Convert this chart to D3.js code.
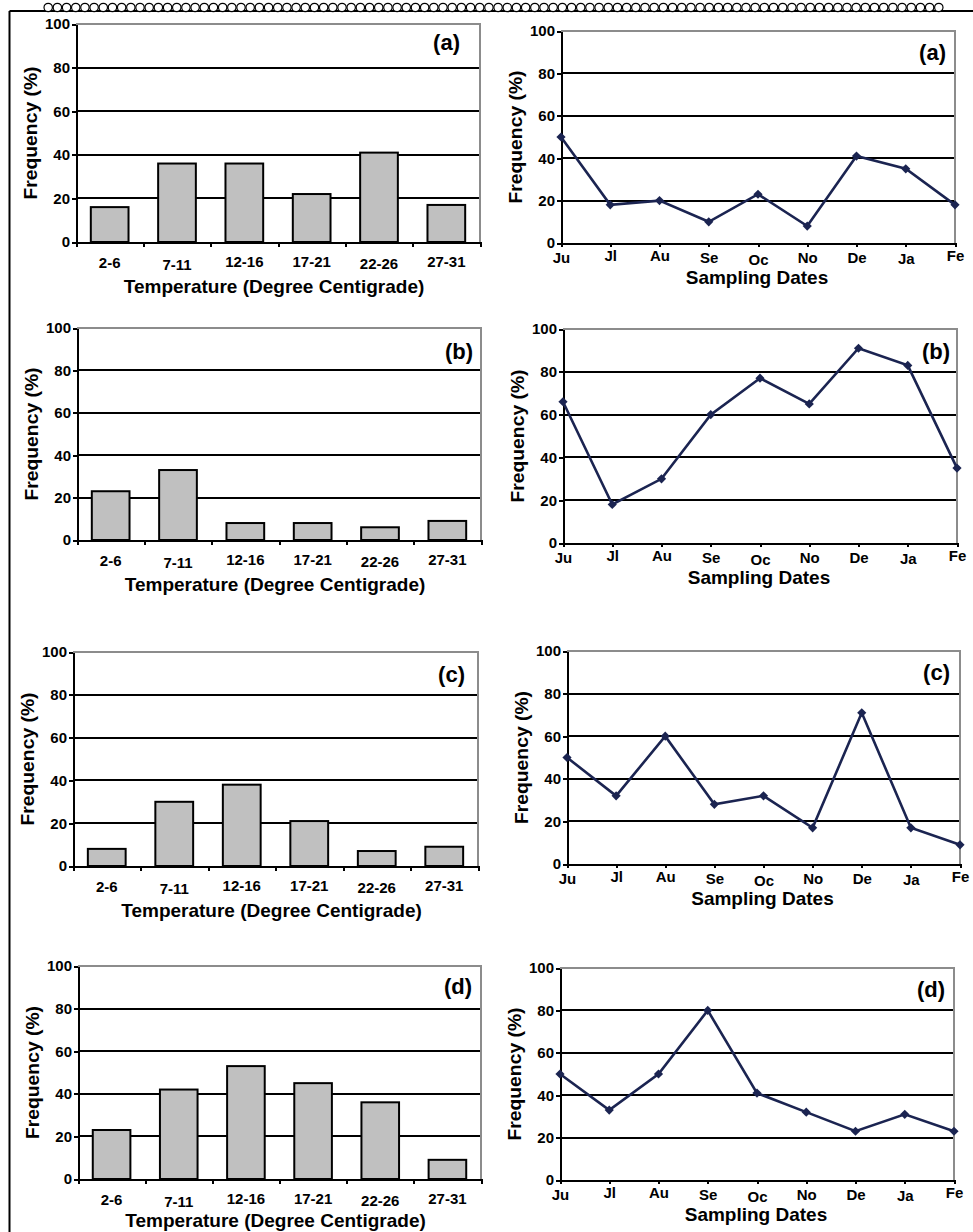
<!DOCTYPE html>
<html lang="en">
<head>
<meta charset="utf-8">
<title>Frequency by temperature and sampling date</title>
<script src="https://cdn.jsdelivr.net/npm/d3@7"></script>
<style>
    body { margin: 0; background: #fff; }
    svg text { font-family: "Liberation Sans", Arial, sans-serif; font-weight: bold; fill: #000; }
    .axis path, .axis line { stroke: #000; stroke-width: 2px; shape-rendering: crispEdges; }
    .axis text { font-size: 15px; }
    .grid line { stroke: #000; stroke-width: 2px; shape-rendering: crispEdges; }
    .frame { stroke: #8c8c8c; stroke-width: 2px; fill: none; shape-rendering: crispEdges; }
    .title { font-size: 19px; }
    .plabel { font-size: 22px; }
</style>
</head>
<body>
<script>
// categories and tick labels
var tempClasses = ["2-6", "7-11", "12-16", "17-21", "22-26", "27-31"];
var months = ["Ju", "Jl", "Au", "Se", "Oc", "No", "De", "Ja", "Fe"];
var yTicks = [0, 20, 40, 60, 80, 100];
var gridTicks = [20, 40, 60, 80];
var panelLabels = ["(a)", "(b)", "(c)", "(d)"];

// frequency (%) by temperature class, panels a-d
var tempA = [16, 36, 36, 22, 41, 17];
var tempB = [23, 33, 8, 8, 6, 9];
var tempC = [8, 30, 38, 21, 7, 9];
var tempD = [23, 42, 53, 45, 36, 9];

// frequency (%) by sampling date, panels a-d
var dateA = [50, 18, 20, 10, 23, 8, 41, 35, 18];
var dateB = [66, 18, 30, 60, 77, 65, 91, 83, 35];
var dateC = [50, 32, 60, 28, 32, 17, 71, 17, 9];
var dateD = [50, 33, 50, 80, 41, 32, 23, 31, 23];

var tempSeries = [tempA, tempB, tempC, tempD];
var dateSeries = [dateA, dateB, dateC, dateD];

// plot frames (pixels) and panel-label anchors
var barFrames = [
    {x0: 76, x1: 480, y0: 24,  y1: 242,  lx: 460, ly: 50},
    {x0: 77, x1: 481, y0: 328, y1: 540,  lx: 473, ly: 359},
    {x0: 73, x1: 478, y0: 652, y1: 866,  lx: 465, ly: 682},
    {x0: 78, x1: 481, y0: 966, y1: 1179, lx: 472, ly: 994}
];
var lineFrames = [
    {x0: 561, x1: 955, y0: 31,  y1: 243,  lx: 946, ly: 60},
    {x0: 563, x1: 957, y0: 329, y1: 543,  lx: 950, ly: 359},
    {x0: 567, x1: 960, y0: 651, y1: 864,  lx: 950, ly: 680},
    {x0: 560, x1: 954, y0: 968, y1: 1180, lx: 945, ly: 997}
];
// small vertical jitter of the category labels, as in the scan
var tempDy = [0, 2, -1, -1, 1, -1];
var monthDy = [0, -2, -2, 0, 2, 0, 0, 1, -2];

var W = 973, H = 1232;
var svg = d3.select("body").append("svg").attr("width", W).attr("height", H);

// page border: rule with a row of small rings along the top, rule down the left
svg.append("line").attr("x1", 9.5).attr("y1", 11).attr("x2", W).attr("y2", 11)
    .attr("stroke", "#000").attr("stroke-width", 2);
svg.append("line").attr("x1", 9.5).attr("y1", 11).attr("x2", 9.5).attr("y2", H)
    .attr("stroke", "#000").attr("stroke-width", 2);
var nRings = 98, ringR = 4.2, ringStart = 48.2, ringEnd = 938.8;
svg.append("g").selectAll("circle").data(d3.range(nRings)).enter().append("circle")
    .attr("cx", function(i) { return ringStart + i * (ringEnd - ringStart) / (nRings - 1); })
    .attr("cy", 7.5)
    .attr("r", ringR)
    .attr("fill", "#fff")
    .attr("stroke", "#000")
    .attr("stroke-width", 1.2);

function drawFrame(g, f, y) {
    // gridlines
    g.append("g").attr("class", "grid").selectAll("line").data(gridTicks).enter().append("line")
        .attr("x1", f.x0).attr("x2", f.x1)
        .attr("y1", function(d) { return y(d); })
        .attr("y2", function(d) { return y(d); });
    // gray top/right border of the plot area
    g.append("path").attr("class", "frame")
        .attr("d", "M" + f.x0 + "," + f.y0 + "H" + f.x1 + "V" + f.y1);
}

function drawYAxis(g, f, y) {
    g.append("g").attr("class", "axis")
        .attr("transform", "translate(" + f.x0 + ",0)")
        .call(d3.axisLeft(y).tickValues(yTicks).tickSize(4).tickSizeOuter(0).tickPadding(2));
    g.append("text").attr("class", "title")
        .attr("text-anchor", "middle")
        .attr("transform", "translate(" + (f.x0 - 39) + "," + ((f.y0 + f.y1) / 2) + ") rotate(-90)")
        .attr("textLength", 133)
        .attr("lengthAdjust", "spacingAndGlyphs")
        .text("Frequency (%)");
}

function drawBarPanel(k) {
    var f = barFrames[k], values = tempSeries[k];
    var g = svg.append("g");
    var x = d3.scaleBand().domain(tempClasses).range([f.x0, f.x1]).paddingInner(0.44).paddingOuter(0.22);
    var xEdge = d3.scaleLinear().domain([0, tempClasses.length]).range([f.x0, f.x1]);
    var y = d3.scaleLinear().domain([0, 100]).range([f.y1, f.y0]);

    drawFrame(g, f, y);

    g.append("g").selectAll("rect").data(values).enter().append("rect")
        .attr("x", function(d, i) { return x(tempClasses[i]); })
        .attr("y", function(d) { return y(d); })
        .attr("width", x.bandwidth())
        .attr("height", function(d) { return f.y1 - y(d); })
        .attr("fill", "#c0c0c0")
        .attr("stroke", "#000")
        .attr("stroke-width", 2);

    // category boundary ticks
    g.append("g").attr("class", "axis")
        .attr("transform", "translate(0," + f.y1 + ")")
        .call(d3.axisBottom(xEdge).tickValues(d3.range(tempClasses.length + 1)).tickSize(5).tickSizeOuter(0).tickFormat(""));
    // category labels
    var xl = g.append("g").attr("class", "axis")
        .attr("transform", "translate(0," + f.y1 + ")")
        .call(d3.axisBottom(x).tickSize(0));
    xl.select(".domain").remove();
    xl.selectAll("text").attr("dy", null)
        .attr("y", function(d, i) { return 26 + tempDy[i]; });

    drawYAxis(g, f, y);

    // the last title sits right on the lower page edge
    g.append("text").attr("class", "title").attr("text-anchor", "middle")
        .attr("x", (f.x0 + f.x1) / 2 - 4).attr("y", Math.min(f.y1 + 51, H - 5))
        .text("Temperature (Degree Centigrade)");
    g.append("text").attr("class", "plabel").attr("text-anchor", "end")
        .attr("x", f.lx).attr("y", f.ly).text(panelLabels[k]);
}

function drawLinePanel(k) {
    var f = lineFrames[k], values = dateSeries[k];
    var g = svg.append("g");
    var x = d3.scalePoint().domain(months).range([f.x0, f.x1]);
    var y = d3.scaleLinear().domain([0, 100]).range([f.y1, f.y0]);

    drawFrame(g, f, y);

    var xa = g.append("g").attr("class", "axis")
        .attr("transform", "translate(0," + f.y1 + ")")
        .call(d3.axisBottom(x).tickSize(4).tickSizeOuter(0));
    xa.selectAll("text").attr("dy", null)
        .attr("y", function(d, i) { return 20 + monthDy[i]; });

    drawYAxis(g, f, y);

    var line = d3.line()
        .x(function(d, i) { return x(months[i]); })
        .y(function(d) { return y(d); });
    g.append("path").datum(values)
        .attr("d", line)
        .attr("fill", "none")
        .attr("stroke", "#1b2451")
        .attr("stroke-width", 2.6)
        .attr("stroke-linejoin", "miter");

    var r = 4.6;
    g.append("g").selectAll("path").data(values).enter().append("path")
        .attr("d", function(d, i) {
            var cx = x(months[i]), cy = y(d);
            return "M" + cx + "," + (cy - r) + "L" + (cx + r) + "," + cy +
                   "L" + cx + "," + (cy + r) + "L" + (cx - r) + "," + cy + "Z";
        })
        .attr("fill", "#1b2451");

    g.append("text").attr("class", "title").attr("text-anchor", "middle")
        .attr("x", (f.x0 + f.x1) / 2 - 1).attr("y", f.y1 + 41)
        .text("Sampling Dates");
    g.append("text").attr("class", "plabel").attr("text-anchor", "end")
        .attr("x", f.lx).attr("y", f.ly).text(panelLabels[k]);
}

for (var k = 0; k < 4; k++) {
    drawBarPanel(k);
    drawLinePanel(k);
}
</script>
</body>
</html>
